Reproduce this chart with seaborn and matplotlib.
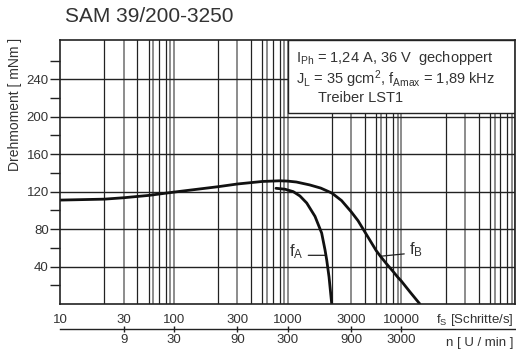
#!/usr/bin/env python3
# coding=utf-8

# Drehmomentkennlinie SAM 39/200-3250 (Datenblatt nachgezeichnet)

import numpy as np
import pandas as pd
import seaborn as sns
from matplotlib import pyplot as plt
from matplotlib.patches import Rectangle

# Betriebsgrenzfrequenz f_B (Schritte/s -> mNm)
fb_freq = [10, 20, 30, 50, 100, 200, 300, 500, 800, 1000, 1200, 1500, 1750, 2000, 2500, 3000, 3500,
           4000, 5000, 6000, 7000, 8000, 9000, 10000, 12000, 14200]
fb_torque = [111, 112, 113.5, 116, 119.5, 125.3, 128.2, 130.9, 131.6, 131.3, 130.3, 127.2, 123.8, 118.5,
             110.5, 98.5, 89, 77, 57, 50.5, 43, 34.5, 28.5, 24.6, 12.7, 0]

# Start-Stopp-Frequenz f_A
fa_freq = [748, 927, 1130, 1280, 1433, 1620, 1770, 1846, 1884, 1936, 1997]
fa_torque = [123.6, 122.6, 120, 115.4, 107.9, 93.6, 75.8, 57.7, 47, 29, 0]

ytick_vals = [40, 80, 120, 160, 200, 240]
yminor_vals = [20, 60, 100, 140, 180, 220, 260]
fs_tick_vals = [10, 30, 100, 300, 1000, 3000, 10000]
rpm_tick_vals = [9, 30, 90, 300, 900, 3000]
steps_per_rev = 200

# the printed log paper is not a clean log scale, grid lines sit at these fractions of a decade
MANT = np.array([1, 2, 3, 4, 5, 6, 7, 8, 9, 10.0])
FRAC = np.array([0, .39, .56, .68, .78, .82, .87, .93, .97, 1.0])


def fwd(x):
    x = np.clip(np.asarray(x, dtype=float), 1e-6, None)
    e = np.floor(np.log10(x) + 1e-12)
    return e + np.interp(x / 10.0 ** e, MANT, FRAC)


def inv(u):
    u = np.asarray(u, dtype=float)
    e = np.floor(u + 1e-12)
    return 10.0 ** e * np.interp(u - e, FRAC, MANT)


sns.set_theme(style="white")
plt.rcParams['font.family'] = ['Liberation Sans', 'DejaVu Sans']
plt.rcParams['mathtext.fontset'] = 'custom'
plt.rcParams['mathtext.rm'] = 'Liberation Sans'
plt.rcParams['mathtext.it'] = 'Liberation Sans'
plt.rcParams['mathtext.bf'] = 'Liberation Sans:bold'

TXT = "#333333"
DARK = "#222222"
GREY = "#8c8c8c"

fig = plt.figure(figsize=(5.16, 3.53), dpi=100)
ax = fig.add_axes([60 / 516, 1 - 304 / 353, 455 / 516, 264 / 353])
ax.set_xscale('function', functions=(fwd, inv))
ax.set_xlim(10, 1e5)
ax.set_ylim(0, 282)

# grid
for k in (1, 2, 3, 4):
    for m in range(2, 11):
        if m in (2, 4, 5, 7, 8):
            ax.axvline(m * 10 ** k, color=DARK, lw=0.9, zorder=1)
        else:
            ax.axvline(m * 10 ** k, color=GREY, lw=1.4, zorder=1)
for v in ytick_vals:
    ax.axhline(v, color=DARK, lw=1.0, zorder=1)

df_b = pd.DataFrame({"fs": fb_freq, "M": fb_torque})
df_a = pd.DataFrame({"fs": fa_freq, "M": fa_torque})
sns.lineplot(data=df_b, x="fs", y="M", ax=ax, color="#111111", linewidth=2.0, zorder=4)
sns.lineplot(data=df_a, x="fs", y="M", ax=ax, color="#111111", linewidth=2.0, zorder=4)

ax.annotate(r"f$_\mathrm{A}$", xy=(1850, 52), xytext=(1200, 56), ha="center", va="center",
            fontsize=12, color=TXT,
            arrowprops=dict(arrowstyle="-", color=DARK, lw=0.9, shrinkA=1, shrinkB=0, relpos=(1, 0.3)))
ax.annotate(r"f$_\mathrm{B}$", xy=(5900, 51), xytext=(13300, 58), ha="center", va="center",
            fontsize=12, color=TXT,
            arrowprops=dict(arrowstyle="-", color=DARK, lw=0.9, shrinkA=1, shrinkB=0, relpos=(0, 0.3)))

# info box
ax.add_patch(Rectangle((0.5, 0.7235), 0.5, 0.2765, transform=ax.transAxes, facecolor="white",
                       edgecolor=DARK, lw=1.0, zorder=3))
ax.text(0.519, 0.932, r"I$_\mathrm{Ph}$ = 1,24 A, 36 V  gechoppert", transform=ax.transAxes,
        fontsize=10.5, color=TXT, va="center", zorder=5)
ax.text(0.519, 0.853, r"J$_\mathrm{L}$ = 35 gcm$^\mathrm{2}$, f$_\mathrm{Amax}$ = 1,89 kHz", transform=ax.transAxes,
        fontsize=10.5, color=TXT, va="center", zorder=5)
ax.text(0.567, 0.780, "Treiber LST1", transform=ax.transAxes,
        fontsize=10.5, color=TXT, va="center", zorder=5)

ax.set_xlabel(None)
ax.set_ylabel(None)
ax.set_xticks(fs_tick_vals, labels=[str(v) for v in fs_tick_vals])
ax.set_yticks(ytick_vals, labels=[str(v) for v in ytick_vals])
ax.set_yticks(yminor_vals, minor=True)
ax.tick_params(axis="x", which="both", length=0, pad=7, labelsize=9.5, labelcolor=TXT)
ax.tick_params(axis="y", which="both", direction="out", length=7, width=1, color=DARK, pad=1,
               labelsize=9.5, labelcolor=TXT, left=True)
for s in ax.spines.values():
    s.set_color(DARK)
    s.set_linewidth(1.2)
    s.set_zorder(6)

# rpm scale below
ax2 = ax.twiny()
ax2.set_xscale('function', functions=(fwd, inv))
ax2.set_xlim(10, 1e5)
rpm_pos = [n * steps_per_rev / 60 for n in rpm_tick_vals]
ax2.set_xticks(rpm_pos, labels=[str(n) for n in rpm_tick_vals])
ax2.xaxis.set_ticks_position("bottom")
ax2.xaxis.set_label_position("bottom")
ax2.spines["bottom"].set_position(("outward", 18))
for side in ("top", "left", "right"):
    ax2.spines[side].set_visible(False)
ax2.spines["bottom"].set_color(DARK)
ax2.spines["bottom"].set_linewidth(1.0)
ax2.tick_params(axis="x", which="major", direction="inout", length=5, width=1, color=DARK, pad=1,
                labelsize=9.5, labelcolor=TXT, bottom=True, top=False, labelbottom=True, labeltop=False)
ax2.tick_params(axis="x", which="minor", length=0)
ax2.grid(False)

ax.text(0.996, -0.0606, r"f$_\mathrm{S}$ [Schritte/s]", transform=ax.transAxes, ha="right", va="center",
        fontsize=9.5, color=TXT)
ax.text(0.996, -0.148, "n [ U / min ]", transform=ax.transAxes, ha="right", va="center",
        fontsize=9.5, color=TXT)

fig.text(15 / 516, 1 - 104 / 353, "Drehmoment [ mNm ]", rotation=90, ha="center", va="center",
         fontsize=10, color=TXT)
fig.text(65 / 516, 1 - 16 / 353, "SAM 39/200-3250", ha="left", va="center", fontsize=15, color=TXT)

fig.savefig("out.png", dpi=100)
